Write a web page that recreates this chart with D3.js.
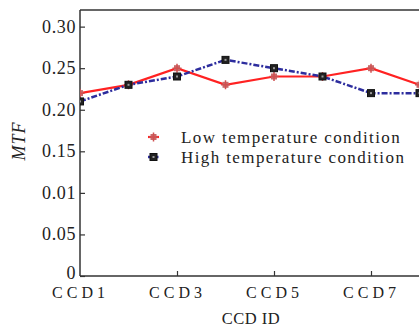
<!DOCTYPE html>
<html>
<head>
<meta charset="utf-8">
<script src="https://cdn.jsdelivr.net/npm/d3@7"></script>
<style>
  body { margin: 0; background: #fff; }
  svg text { font-family: "Liberation Serif", "DejaVu Serif", serif; fill: #222; }
</style>
</head>
<body>
<div id="chart"></div>
<script>
// data
const ccdIds = [1, 2, 3, 4, 5, 6, 7, 8];
const lowTemp = [0.22, 0.23, 0.25, 0.23, 0.24, 0.24, 0.25, 0.23];
const highTemp = [0.21, 0.23, 0.24, 0.26, 0.25, 0.24, 0.22, 0.22];
const xTickIds = [1, 3, 5, 7];
const yTickValues = [0, 0.05, 0.10, 0.15, 0.20, 0.25, 0.30];
const yTickLabels = ['0', '0.05', '0.01', '0.15', '0.20', '0.25', '0.30'];
const seriesNames = ['Low temperature condition', 'High temperature condition'];

const width = 419, height = 329;
const margin = { top: 10, right: 0, bottom: 53, left: 80 };

const svg = d3.select('#chart')
  .append('svg')
  .attr('width', width)
  .attr('height', height);

const x = d3.scaleLinear()
  .domain([1, 8])
  .range([margin.left, margin.left + 7 * 48.5]);

const y = d3.scaleLinear()
  .domain([0, 0.32])
  .range([height - margin.bottom, margin.top]);

svg.append('clipPath').attr('id', 'plot')
  .append('rect')
  .attr('x', margin.left)
  .attr('y', margin.top - 2)
  .attr('width', width - margin.left)
  .attr('height', height - margin.bottom - margin.top + 4);

// top border
svg.append('line')
  .attr('x1', margin.left).attr('x2', width)
  .attr('y1', y(0.32)).attr('y2', y(0.32))
  .attr('stroke', '#333').attr('stroke-width', 1.5);

// y axis
const yAxis = d3.axisRight(y)
  .tickValues(yTickValues)
  .tickSize(5)
  .tickFormat((d, i) => yTickLabels[i]);

const gy = svg.append('g')
  .attr('transform', `translate(${margin.left},0)`)
  .call(yAxis);
gy.select('.domain').attr('stroke', '#333').attr('stroke-width', 1.5)
  .attr('d', `M0,${y(0.32)}V${y(0)}`);
gy.selectAll('.tick line').attr('stroke', '#333').attr('stroke-width', 1.2);
gy.selectAll('.tick text')
  .attr('x', -4)
  .attr('text-anchor', 'end')
  .attr('font-size', 18)
  .attr('letter-spacing', '0.6px')
  .attr('dy', d => d === 0 ? '0.15em' : '0.3em');

// x axis
const xAxis = d3.axisTop(x)
  .tickValues(xTickIds)
  .tickSize(5)
  .tickFormat(d => 'CCD' + d);

const gx = svg.append('g')
  .attr('transform', `translate(0,${y(0)})`)
  .call(xAxis);
gx.select('.domain').attr('stroke', '#333').attr('stroke-width', 1.5)
  .attr('d', `M${margin.left},0H${width}`);
gx.selectAll('.tick line').attr('stroke', '#333').attr('stroke-width', 1.2);
gx.selectAll('.tick').filter(d => d === 1).select('line').remove();
gx.selectAll('.tick text')
  .attr('y', 22)
  .attr('dy', 0)
  .attr('text-anchor', 'middle')
  .attr('font-size', 16)
  .attr('letter-spacing', '4px');

// axis titles
svg.append('text')
  .attr('transform', `translate(25,141) rotate(-90)`)
  .attr('text-anchor', 'middle')
  .attr('font-size', 18)
  .attr('font-style', 'italic')
  .attr('letter-spacing', '1px')
  .text('MTF');

svg.append('text')
  .attr('x', 251)
  .attr('y', 324)
  .attr('text-anchor', 'middle')
  .attr('font-size', 16.5)
  .attr('letter-spacing', '0.5px')
  .text('CCD ID');

// lines
const plot = svg.append('g').attr('clip-path', 'url(#plot)');

const line = d3.line()
  .x((d, i) => x(ccdIds[i]))
  .y(d => y(d));

plot.append('path')
  .datum(lowTemp)
  .attr('fill', 'none')
  .attr('stroke', '#ff2222')
  .attr('stroke-width', 2.2)
  .attr('d', line);

plot.append('path')
  .datum(highTemp)
  .attr('fill', 'none')
  .attr('stroke', '#2d2d9e')
  .attr('stroke-width', 2.5)
  .attr('stroke-dasharray', '6,2,2,2')
  .attr('d', line);

// markers
function lowMarker(g) {
  g.append('rect').attr('x', -3).attr('y', -3).attr('width', 6).attr('height', 6)
    .attr('fill', '#c86a6a');
  g.append('path').attr('d', 'M-4.5,0H4.5M0,-4.5V4.5').attr('stroke', '#d05050').attr('stroke-width', 1.5);
}
function highMarker(g) {
  g.append('rect').attr('x', -3.5).attr('y', -3.5).attr('width', 7).attr('height', 7)
    .attr('fill', '#222').attr('stroke', '#111');
  g.append('rect').attr('x', -1).attr('y', -1).attr('width', 2).attr('height', 2)
    .attr('fill', '#999');
}

plot.selectAll('.low-pt')
  .data(lowTemp)
  .enter()
  .append('g')
  .attr('class', 'low-pt')
  .attr('transform', (d, i) => `translate(${x(ccdIds[i])},${y(d)})`)
  .each(function () { lowMarker(d3.select(this)); });

plot.selectAll('.high-pt')
  .data(highTemp)
  .enter()
  .append('g')
  .attr('class', 'high-pt')
  .attr('transform', (d, i) => `translate(${x(ccdIds[i])},${y(d)})`)
  .each(function () { highMarker(d3.select(this)); });

// legend
const legend = svg.append('g').attr('transform', 'translate(148,137)');
const rowGap = 20;

legend.append('line')
  .attr('x1', 0).attr('x2', 11).attr('y1', 0).attr('y2', 0)
  .attr('stroke', '#ff2222').attr('stroke-width', 2.2);
lowMarker(legend.append('g').attr('transform', 'translate(5.5,0)'));

legend.append('line')
  .attr('x1', 0).attr('x2', 11).attr('y1', rowGap).attr('y2', rowGap)
  .attr('stroke', '#2d2d9e').attr('stroke-width', 2.5)
  .attr('stroke-dasharray', '3,1.5,1.5,1.5');
highMarker(legend.append('g').attr('transform', `translate(5.5,${rowGap})`));

legend.selectAll('.leg-text')
  .data(seriesNames)
  .enter()
  .append('text')
  .attr('class', 'leg-text')
  .attr('x', 33)
  .attr('y', (d, i) => i * rowGap)
  .attr('dy', '0.35em')
  .attr('font-size', 17)
  .attr('letter-spacing', '1.4px')
  .text(d => d);
</script>
</body>
</html>
